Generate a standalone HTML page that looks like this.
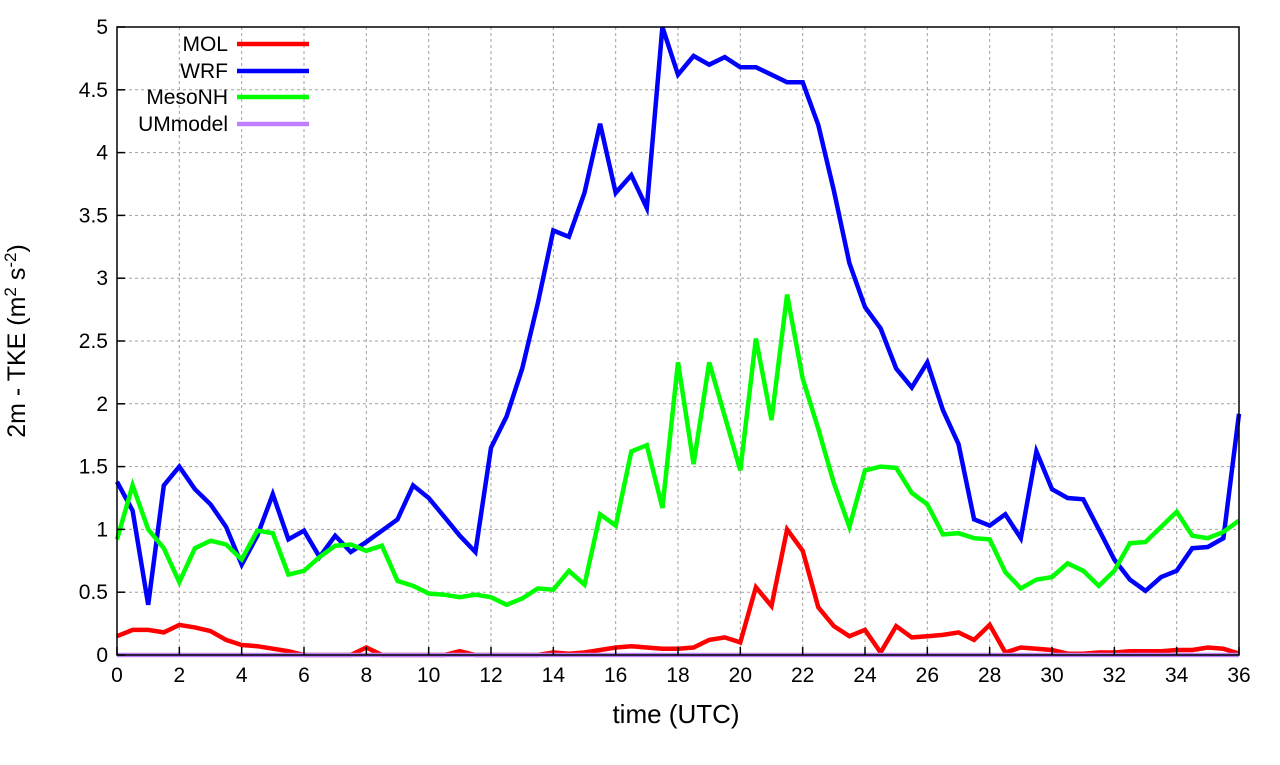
<!DOCTYPE html>
<html><head><meta charset="utf-8"><style>
body{margin:0;background:#fff;}
svg text{font-family:"Liberation Sans","DejaVu Sans",sans-serif;}
</style></head><body>
<svg id="chart" width="1280" height="760" xmlns="http://www.w3.org/2000/svg">
<g id="grid"></g>
<g id="series"></g>
<rect x="117" y="27" width="1122" height="628" fill="none" stroke="#000" stroke-width="1.5"/>
<g id="ticks"></g>
<text x="676" y="723" font-size="26" text-anchor="middle">time (UTC)</text>
<text transform="translate(25,341) rotate(-90)" font-size="25" text-anchor="middle">2m - TKE (m<tspan font-size="17" dy="-9">2</tspan><tspan dy="9"> s</tspan><tspan font-size="17" dy="-9">-2</tspan><tspan dy="9">)</tspan></text>
<g id="legend"></g>
</svg>
<script>
const xTicks=[0,2,4,6,8,10,12,14,16,18,20,22,24,26,28,30,32,34,36];
const yTicks=[0,0.5,1,1.5,2,2.5,3,3.5,4,4.5,5];
const yTickLabels=["0","0.5","1","1.5","2","2.5","3","3.5","4","4.5","5"];
const seriesNames=["MOL","WRF","MesoNH","UMmodel"];
const seriesColors=["#ff0000","#0000ff","#00ff00","#bf80ff"];
const molValues=[0.15,0.2,0.2,0.18,0.24,0.22,0.19,0.12,0.08,0.07,0.05,0.03,0,0,0,0,0.06,0,0,0,0,0,0.03,0,0,0,0,0,0.02,0.01,0.02,0.04,0.06,0.07,0.06,0.05,0.05,0.06,0.12,0.14,0.1,0.54,0.39,1.0,0.83,0.38,0.23,0.15,0.2,0.02,0.23,0.14,0.15,0.16,0.18,0.12,0.24,0.02,0.06,0.05,0.04,0.01,0.01,0.02,0.02,0.03,0.03,0.03,0.04,0.04,0.06,0.05,0.01];
const wrfValues=[1.38,1.15,0.4,1.35,1.5,1.32,1.2,1.02,0.72,0.95,1.28,0.92,0.99,0.78,0.95,0.82,0.9,0.99,1.08,1.35,1.25,1.1,0.95,0.82,1.65,1.9,2.28,2.8,3.38,3.33,3.68,4.23,3.68,3.82,3.56,5.0,4.62,4.77,4.7,4.76,4.68,4.68,4.62,4.56,4.56,4.22,3.7,3.12,2.77,2.6,2.28,2.13,2.33,1.95,1.68,1.08,1.03,1.12,0.93,1.62,1.32,1.25,1.24,1.0,0.76,0.6,0.51,0.62,0.67,0.85,0.86,0.93,1.92];
const mesonhValues=[0.92,1.35,1.0,0.85,0.58,0.85,0.91,0.88,0.76,0.99,0.97,0.64,0.67,0.78,0.87,0.88,0.83,0.87,0.59,0.55,0.49,0.48,0.46,0.48,0.46,0.4,0.45,0.53,0.52,0.67,0.56,1.12,1.03,1.62,1.67,1.17,2.33,1.52,2.33,1.9,1.47,2.52,1.87,2.87,2.2,1.8,1.37,1.02,1.47,1.5,1.49,1.29,1.2,0.96,0.97,0.93,0.92,0.66,0.53,0.6,0.62,0.73,0.67,0.55,0.67,0.89,0.9,1.02,1.14,0.95,0.93,0.98,1.07];
const umValues=new Array(73).fill(0);
const timeStep=0.5;

const NS="http://www.w3.org/2000/svg";
const X0=117,X1=1239,Y0=655,Y1=27;
function xs(t){return X0+(X1-X0)*t/36;}
function ys(v){return Y0-(Y0-Y1)*v/5;}
function mk(tag,attrs,parent){const e=document.createElementNS(NS,tag);for(const k in attrs)e.setAttribute(k,attrs[k]);parent.appendChild(e);return e;}
const grid=document.getElementById('grid'),ticks=document.getElementById('ticks'),ser=document.getElementById('series'),leg=document.getElementById('legend');
xTicks.forEach(t=>{
  const g=mk('line',{x1:xs(t),x2:xs(t),y1:Y1,y2:Y0,stroke:'#a0a0a0','stroke-width':1,'stroke-dasharray':'3,3'},grid);
  
  
  const tk=mk('line',{x1:xs(t),x2:xs(t),y1:Y0,y2:Y0-8,stroke:'#000','stroke-width':1.5},ticks);
  
  
  const tl=mk('text',{x:xs(t),y:Y0+27,'font-size':21,'text-anchor':'middle'},ticks);
  tl.textContent=t;
  
  
});
yTicks.forEach((v,i)=>{
  const g=mk('line',{x1:X0,x2:X1,y1:ys(v),y2:ys(v),stroke:'#a0a0a0','stroke-width':1,'stroke-dasharray':'3,3'},grid);
  
  
  const tk=mk('line',{x1:X0,x2:X0+8,y1:ys(v),y2:ys(v),stroke:'#000','stroke-width':1.5},ticks);
  
  
  const tl=mk('text',{x:X0-9,y:ys(v)+7,'font-size':21,'text-anchor':'end'},ticks);
  tl.textContent=yTickLabels[i];
  
  
});
const allSeries=[molValues,wrfValues,mesonhValues,umValues];
const drawOrder=[1,2,0,3];
drawOrder.forEach(si=>{
  const vals=allSeries[si];
  const pts=vals.map((v,i)=>xs(i*timeStep).toFixed(1)+','+ys(v).toFixed(1)).join(' ');
  const p=mk('polyline',{points:pts,fill:'none',stroke:seriesColors[si],'stroke-width':4.5,'stroke-linejoin':'miter'},ser);
  
  
});
const legY=[44,71,97,124];
seriesNames.forEach((n,i)=>{
  const t=mk('text',{x:228,y:legY[i]+7,'font-size':21,'text-anchor':'end'},leg);
  t.textContent=n;
  
  
  const l=mk('line',{x1:237,x2:309,y1:legY[i],y2:legY[i],stroke:seriesColors[i],'stroke-width':4.5},leg);
  
  
});
</script>
</body></html>
